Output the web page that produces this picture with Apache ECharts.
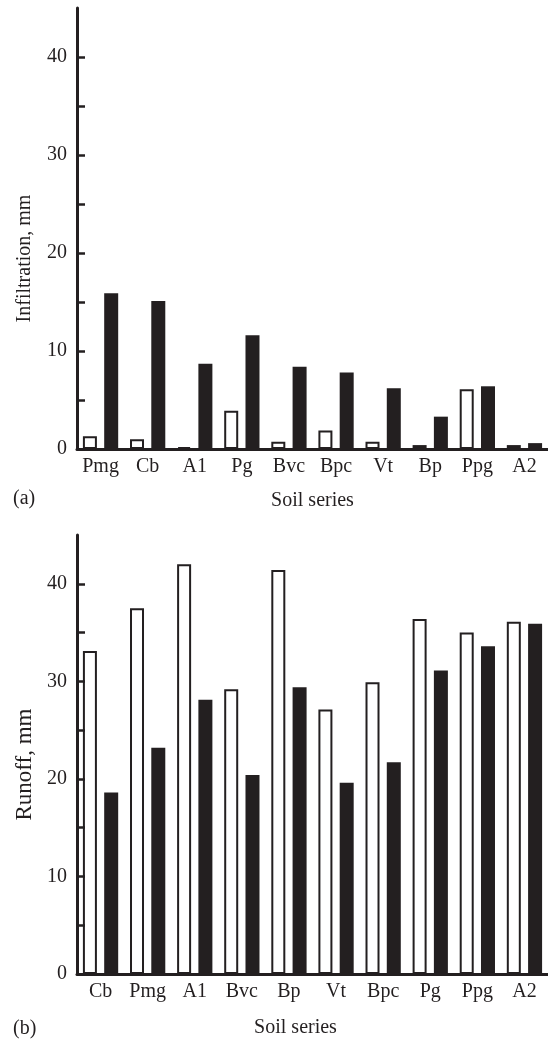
<!DOCTYPE html>
<html>
<head>
<meta charset="utf-8">
<script src="https://cdn.jsdelivr.net/npm/echarts@6/dist/echarts.min.js"></script>
<style>
html,body{margin:0;padding:0;background:#fff;}
#chart{width:548px;height:1039px;}
</style>
</head>
<body>
<div id="chart"></div>
<script>
// ---- data ----
var catsA = ['Pmg','Cb','A1','Pg','Bvc','Bpc','Vt','Bp','Ppg','A2'];
var infilOpen = [1.3, 1.0, 0.2, 3.9, 0.75, 1.9, 0.75, 0.4, 6.1, 0.4];
var infilFilled = [15.9, 15.1, 8.7, 11.6, 8.4, 7.8, 6.2, 3.3, 6.4, 0.6];

var catsB = ['Cb','Pmg','A1','Bvc','Bp','Vt','Bpc','Pg','Ppg','A2'];
var runoffOpen = [33.1, 37.5, 42.0, 29.2, 41.4, 27.1, 29.9, 36.4, 35.0, 36.1];
var runoffFilled = [18.6, 23.2, 28.1, 20.4, 29.4, 19.6, 21.7, 31.1, 33.6, 35.9];

var yTickValues = [0, 5, 10, 15, 20, 25, 30, 35, 40];
var yLabelValues = [0, 10, 20, 30, 40];
var yMax = 45;

// ---- style ----
var ink = '#231f20';
var font = 'Liberation Serif';

function xAxisOpt(idx, cats, gap, padding) {
  return {
    type: 'category', gridIndex: idx, data: cats, z: 5,
    boundaryGap: true,
    axisLine: { show: true, lineStyle: { color: ink, width: 3 } },
    axisTick: { show: false },
    axisLabel: { color: ink, fontFamily: font, fontSize: 20, margin: 8, interval: 0 },
    name: 'Soil series', nameLocation: 'middle', nameGap: gap,
    nameTextStyle: { color: ink, fontFamily: font, fontSize: 20, padding: padding }
  };
}
function yAxisOpt(idx, name, size, gap, padding) {
  return {
    type: 'value', gridIndex: idx, min: 0, max: yMax, z: 5,
    axisLine: { show: true, lineStyle: { color: ink, width: 3 } },
    axisTick: { show: true, inside: true, length: 8, customValues: yTickValues,
                lineStyle: { color: ink, width: 2.5 } },
    axisLabel: { color: ink, fontFamily: font, fontSize: 20, margin: 10, customValues: yLabelValues },
    splitLine: { show: false },
    name: name, nameLocation: 'middle', nameGap: gap,
    nameTextStyle: { color: ink, fontFamily: font, fontSize: size, padding: padding }
  };
}
function openSeries(idx, data) {
  return {
    type: 'bar', xAxisIndex: idx, yAxisIndex: idx, data: data,
    barWidth: 14, barGap: '52%',
    itemStyle: { color: '#ffffff', borderColor: ink, borderWidth: 2 },
    silent: true
  };
}
function filledSeries(idx, data) {
  return {
    type: 'bar', xAxisIndex: idx, yAxisIndex: idx, data: data,
    barWidth: 14, barGap: '52%',
    itemStyle: { color: ink },
    silent: true
  };
}

var chart = echarts.init(document.getElementById('chart'), null, { renderer: 'canvas' });
chart.setOption({
  animation: false,
  backgroundColor: '#fff',
  grid: [
    { left: 77, top: 8, width: 474, height: 441 },
    { left: 77, top: 535, width: 474, height: 441 }
  ],
  xAxis: [ xAxisOpt(0, catsA, 42, [0, 0, 0, 0]), xAxisOpt(1, catsB, 44, [0, 34, 0, 0]) ],
  yAxis: [ yAxisOpt(0, 'Infiltration, mm', 20, 42, [0, 60, 0, 0]),
           yAxisOpt(1, 'Runoff, mm', 23, 41, [0, 20, 0, 0]) ],
  series: [
    openSeries(0, infilOpen), filledSeries(0, infilFilled),
    openSeries(1, runoffOpen), filledSeries(1, runoffFilled)
  ],
  graphic: [
    { type: 'text', left: 13, top: 489, style: { text: '(a)', fill: ink, font: '20px "Liberation Serif"' } },
    { type: 'text', left: 13, top: 1019, style: { text: '(b)', fill: ink, font: '20px "Liberation Serif"' } }
  ]
});
</script>
</body>
</html>
